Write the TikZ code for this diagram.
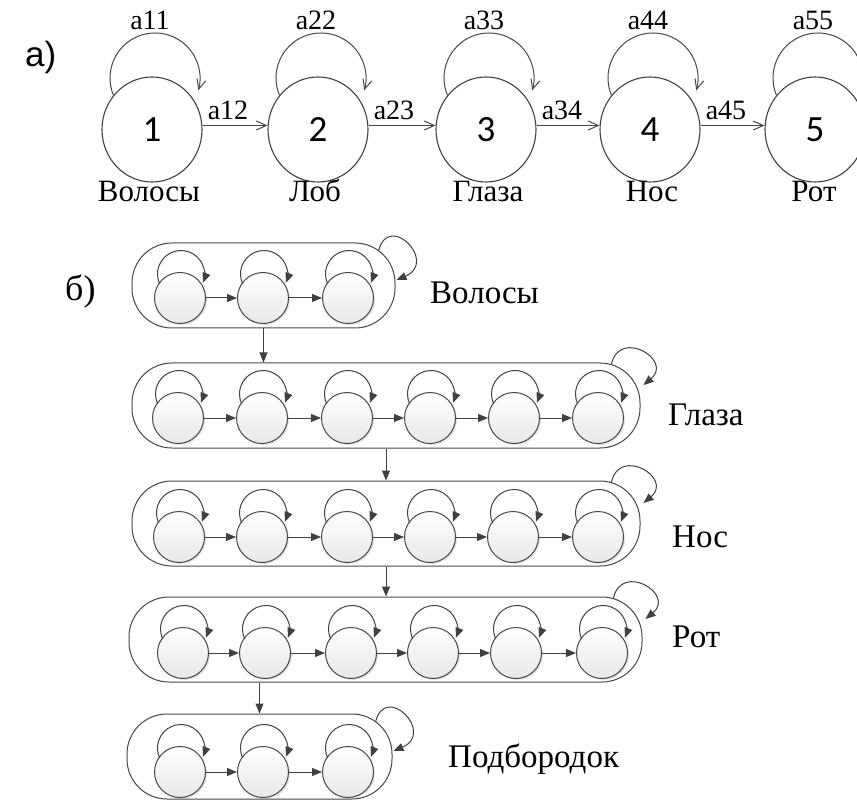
\documentclass[tikz,border=0pt]{standalone}
\usepackage{fontspec}
\setmainfont{Liberation Serif}
\newfontfamily\digitfont{Carlito}
\newfontfamily\headsans{Liberation Sans}
\usetikzlibrary{arrows.meta,shapes.geometric,shadows,calc}

\begin{document}
\begin{tikzpicture}[x=1pt,y=1pt,
  bigstate/.style={ellipse, draw=black!75, line width=1.1pt, minimum width=100pt,
    minimum height=105pt, inner sep=0pt, font=\digitfont\fontsize{37}{37}\selectfont},
  openarr/.style={draw=black!72, line width=1pt, -{Straight Barb[length=10pt,width=9pt]}},
  translbl/.style={font=\fontsize{28}{28}\selectfont, inner sep=0pt},
  statename/.style={font=\fontsize{31}{31}\selectfont, inner sep=0pt, anchor=base},
  substate/.style={circle, draw=black!72, line width=1pt, minimum size=51pt, inner sep=0pt,
    top color=white, bottom color=black!9,
    drop shadow={opacity=0.22, shadow xshift=1.5pt, shadow yshift=-1.5pt}},
  capsule/.style={rectangle, rounded corners=40pt, draw=black!72, line width=1pt,
    minimum height=85pt, inner sep=0pt},
  tri/.style={draw=black!75, line width=1pt, -{Triangle[length=10pt,width=8pt]}},
  grouplbl/.style={font=\fontsize{33}{33}\selectfont, inner sep=0pt, anchor=base west},
]
\useasboundingbox (0,0) rectangle (857,-802);

% ---------- a) five-state left-to-right chain ----------
\node[font=\headsans\fontsize{35}{35}\selectfont, inner sep=0pt, anchor=base west] (pa) at (25,-67) {a)};

\foreach \x [count=\i] in {152,318,486,650,815}
  \node[bigstate] (a\i) at (\x,-129.5) {\i};

\foreach \i in {1,...,5} {
  \draw[openarr] (a\i.center) ++(3,51.5) ++(202:45) arc[start angle=202,end angle=-16,radius=45];
  \node[translbl, anchor=base] (s\i) at ($(a\i.center)+(-2,99.5)$) {a\i\i};
}

\foreach \i/\j in {1/2,2/3,3/4,4/5} {
  \draw[openarr] ([yshift=4pt]a\i.east) -- ([yshift=4pt]a\j.west);
  \node[translbl, anchor=base west] (t\i) at ($(a\i.east)+(5,9.5)$) {a\i\j};
}

\node[statename] (n1) at ($(a1.center)+(-3,-72.5)$) {Волосы};
\node[statename] (n2) at ($(a2.center)+(-3,-72.5)$) {Лоб};
\node[statename] (n3) at ($(a3.center)+(2,-72.5)$) {Глаза};
\node[statename] (n4) at ($(a4.center)+(2,-72.5)$) {Нос};
\node[statename] (n5) at ($(a5.center)+(-1,-72.5)$) {Рот};

% ---------- б) hierarchical model ----------
\node[font=\fontsize{36}{36}\selectfont, inner sep=0pt, anchor=base west] (pb) at (65,-301) {б)};

% group outlines
\node[capsule, minimum width=263pt] (cap1) at (263.5,-285.5) {};
\node[capsule, minimum width=508pt] (cap2) at (386,-405.5) {};
\node[capsule, minimum width=508pt] (cap3) at (386,-523.5) {};
\node[capsule, minimum width=513pt] (cap4) at (385.5,-639.5) {};
\node[capsule, minimum width=265pt] (cap5) at (259.5,-756.5) {};

% sub-states of each group
\foreach \x [count=\i] in {180,263,348}
  \node[substate] (r1c\i) at (\x,-298) {};
\foreach \x [count=\i] in {178,262,347,430,514,598}
  \node[substate] (r2c\i) at (\x,-418) {};
\foreach \x [count=\i] in {179,262,347,430,513,598}
  \node[substate] (r3c\i) at (\x,-537) {};
\foreach \x [count=\i] in {183,265,351,433,516,602}
  \node[substate] (r4c\i) at (\x,-653) {};
\foreach \x [count=\i] in {180,263,348}
  \node[substate] (r5c\i) at (\x,-772) {};

% self-loops and transitions inside the groups
\foreach \r/\n in {1/3,2/6,3/6,4/6,5/3} {
  \foreach \i in {1,...,\n}
    \draw[tri] (r\r c\i.center) ++(1,24) ++(205:23.5) arc[start angle=205,end angle=-22,radius=23.5];
}
\foreach \r/\n in {1/3,2/6,3/6,4/6,5/3} {
  \pgfmathtruncatemacro{\last}{\n-1}
  \foreach \i in {1,...,\last} {
    \pgfmathtruncatemacro{\j}{\i+1}
    \draw[tri] (r\r c\i) -- (r\r c\j);
  }
}

% group self-loops
\foreach \c in {1,5}
  \draw[tri] ($(cap\c.east)+(-17,34.5)$) .. controls +(10,40) and +(42,18) .. ($(cap\c.east)+(1,5.5)$);
\foreach \c in {2,3,4}
  \draw[tri] ($(cap\c.east)+(-29,41.5)$) .. controls +(8,36) and +(30,25) .. ($(cap\c.east)+(3,20.5)$);

% transitions between groups
\draw[tri] (cap1.south) -- (cap1.south |- cap2.north);
\draw[tri] (cap2.south) -- (cap3.north);
\draw[tri] (cap3.south) -- (cap3.south |- cap4.north);
\draw[tri] (cap4.south -| cap5.north) -- (cap5.north);

% group names
\node[grouplbl] (g1) at (430,-304) {Волосы};
\node[grouplbl] (g2) at (668,-425) {Глаза};
\node[grouplbl] (g3) at (672,-547) {Нос};
\node[grouplbl] (g4) at (672,-647) {Рот};
\node[grouplbl] (g5) at (448,-767) {Подбородок};
\end{tikzpicture}
\end{document}
